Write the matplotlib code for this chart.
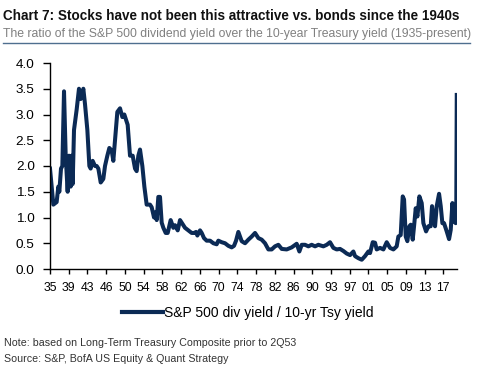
import matplotlib
matplotlib.use("Agg")
import matplotlib.pyplot as plt
from matplotlib.lines import Line2D

plt.rcParams['font.family'] = ['Liberation Sans', 'DejaVu Sans']

# ratio of S&P 500 dividend yield / 10-yr Treasury yield
years = [
    1935.00, 1935.70, 1936.39, 1936.74, 1936.95, 1937.30, 1937.58, 1937.93, 1938.28, 1938.69,
    1938.97, 1939.32, 1939.53, 1939.74, 1940.02, 1940.58, 1941.06, 1941.41, 1941.97, 1942.32,
    1942.81, 1943.23, 1943.50, 1943.92, 1944.41, 1944.76, 1945.11, 1945.60, 1946.15, 1946.50,
    1946.99, 1947.41, 1947.90, 1948.24, 1948.59, 1949.08, 1949.64, 1950.13, 1950.54, 1950.89,
    1951.24, 1951.73, 1952.29, 1952.78, 1953.12, 1953.47, 1953.82, 1954.31, 1954.73, 1955.21,
    1955.91, 1956.26, 1956.75, 1957.03, 1957.31, 1957.65, 1958.00, 1958.35, 1958.70, 1959.19,
    1959.61, 1960.23, 1960.79, 1961.14, 1961.70, 1962.19, 1962.53, 1963.23, 1963.93, 1964.62,
    1965.18, 1965.53, 1965.81, 1966.37, 1966.72, 1967.20, 1967.76, 1968.46, 1969.16, 1969.85,
    1970.20, 1970.90, 1971.60, 1972.29, 1972.99, 1973.48, 1973.90, 1974.38, 1975.08, 1975.78,
    1976.48, 1977.17, 1977.87, 1978.57, 1979.26, 1979.96, 1980.66, 1981.35, 1982.05, 1982.75,
    1983.45, 1984.49, 1985.54, 1986.58, 1987.14, 1987.63, 1988.33, 1989.02, 1989.72, 1990.42,
    1991.11, 1992.16, 1992.86, 1993.55, 1994.25, 1994.95, 1995.64, 1996.34, 1997.04, 1997.74,
    1998.43, 1998.78, 1999.48, 2000.18, 2000.87, 2001.57, 2001.92, 2002.48, 2002.96, 2003.31,
    2004.01, 2004.71, 2005.40, 2006.10, 2006.80, 2007.49, 2007.84, 2008.33, 2008.75, 2009.03,
    2009.38, 2009.72, 2010.14, 2010.42, 2010.84, 2011.12, 2011.47, 2011.82, 2012.23, 2012.72,
    2013.07, 2013.63, 2014.12, 2014.60, 2014.88, 2015.16, 2015.51, 2015.86, 2016.35, 2016.70,
    2017.04, 2017.39, 2017.95, 2018.44, 2018.79, 2019.14, 2019.49, 2019.83, 2019.95, 2020.05,
]
ratio = [
    1.95, 1.25, 1.30, 1.60, 1.50, 1.95, 2.00, 3.45, 2.20, 1.50,
    2.20, 1.60, 2.20, 1.65, 2.70, 3.10, 3.50, 3.30, 3.50, 3.20,
    2.70, 2.00, 1.95, 2.10, 2.00, 2.00, 1.95, 1.68, 1.75, 2.00,
    2.20, 2.35, 2.30, 2.10, 2.50, 3.05, 3.12, 2.95, 3.00, 2.90,
    2.80, 2.20, 2.20, 1.95, 1.90, 2.20, 2.32, 2.00, 1.60, 1.25,
    1.25, 1.20, 1.00, 1.10, 0.95, 1.40, 1.40, 0.90, 0.80, 0.70,
    0.70, 0.95, 0.80, 0.85, 0.75, 0.95, 0.90, 0.80, 0.75, 0.70,
    0.70, 0.72, 0.65, 0.75, 0.70, 0.60, 0.55, 0.55, 0.50, 0.48,
    0.55, 0.52, 0.50, 0.45, 0.42, 0.45, 0.55, 0.72, 0.54, 0.50,
    0.57, 0.63, 0.70, 0.60, 0.57, 0.50, 0.38, 0.38, 0.44, 0.47,
    0.39, 0.38, 0.42, 0.49, 0.34, 0.47, 0.47, 0.44, 0.47, 0.44,
    0.47, 0.44, 0.47, 0.52, 0.41, 0.38, 0.39, 0.35, 0.30, 0.27,
    0.34, 0.25, 0.21, 0.18, 0.25, 0.34, 0.31, 0.52, 0.51, 0.38,
    0.41, 0.38, 0.52, 0.41, 0.38, 0.44, 0.63, 0.66, 1.41, 1.35,
    0.63, 0.54, 0.83, 0.86, 0.57, 0.83, 1.18, 1.02, 1.41, 1.28,
    0.89, 0.73, 0.83, 0.83, 1.22, 1.02, 0.83, 1.22, 1.46, 1.22,
    0.89, 0.89, 0.73, 0.58, 0.76, 1.28, 0.92, 0.89, 1.20, 3.38,
]

tick_labels = ['35', '39', '43', '46', '50', '54', '58', '62', '66', '70', '74',
               '78', '82', '86', '90', '93', '97', '01', '05', '09', '13', '17']
# one tick every 47 months starting Jan 1935
tick_pos = [1935 + i * 47 / 12 for i in range(len(tick_labels))]

navy = '#0b2a55'

fig = plt.figure(figsize=(4.8, 3.69), dpi=100)
ax = fig.add_axes([50 / 480, 100 / 369, 407 / 480, 206 / 369])

ax.plot(years, ratio, color=navy, lw=2.9, solid_joinstyle='round')

ax.set_xlim(1935, 2020.1)
ax.set_ylim(0, 4.0)
ax.set_yticks([0, 0.5, 1.0, 1.5, 2.0, 2.5, 3.0, 3.5, 4.0])
ax.set_yticklabels(['%.1f' % v for v in ax.get_yticks()], fontsize=9.7)
ax.set_xticks(tick_pos)
ax.set_xticklabels(tick_labels, fontsize=8.8)

ax.tick_params(axis='y', length=5, width=1, pad=6, colors='black')
ax.tick_params(axis='x', length=3.5, width=1, pad=6, colors='black')
for side in ['top', 'right']:
    ax.spines[side].set_visible(False)
for side in ['left', 'bottom']:
    ax.spines[side].set_linewidth(1)

handle = Line2D([], [], color=navy, lw=3)
fig.legend([handle], ['S&P 500 div yield / 10-yr Tsy yield'], loc='center',
           bbox_to_anchor=(248 / 480, 1 - 313 / 369), frameon=False,
           fontsize=10, handlelength=2.9, handletextpad=0.1)

fig.text(0.006, 1 - 16 / 369, 'Chart 7: Stocks have not been this attractive vs. bonds since the 1940s',
         fontsize=9.75, fontweight='bold', va='center', ha='left', color='#111111')
fig.text(0.006, 1 - 34 / 369,
         'The ratio of the S&P 500 dividend yield over the 10-year Treasury yield (1935-present)',
         fontsize=8.85, va='center', ha='left', color='#808080')
fig.add_artist(Line2D([0.006, 0.98], [1 - 42.5 / 369, 1 - 42.5 / 369], color='#4f6f8f', lw=1))

fig.text(0.008, 1 - 343 / 369, 'Note: based on Long-Term Treasury Composite prior to 2Q53',
         fontsize=7.7, va='center', ha='left', color='#333333')
fig.text(0.008, 1 - 359 / 369, 'Source: S&P, BofA US Equity & Quant Strategy',
         fontsize=7.7, va='center', ha='left', color='#333333')

fig.savefig('out.png', dpi=100)
